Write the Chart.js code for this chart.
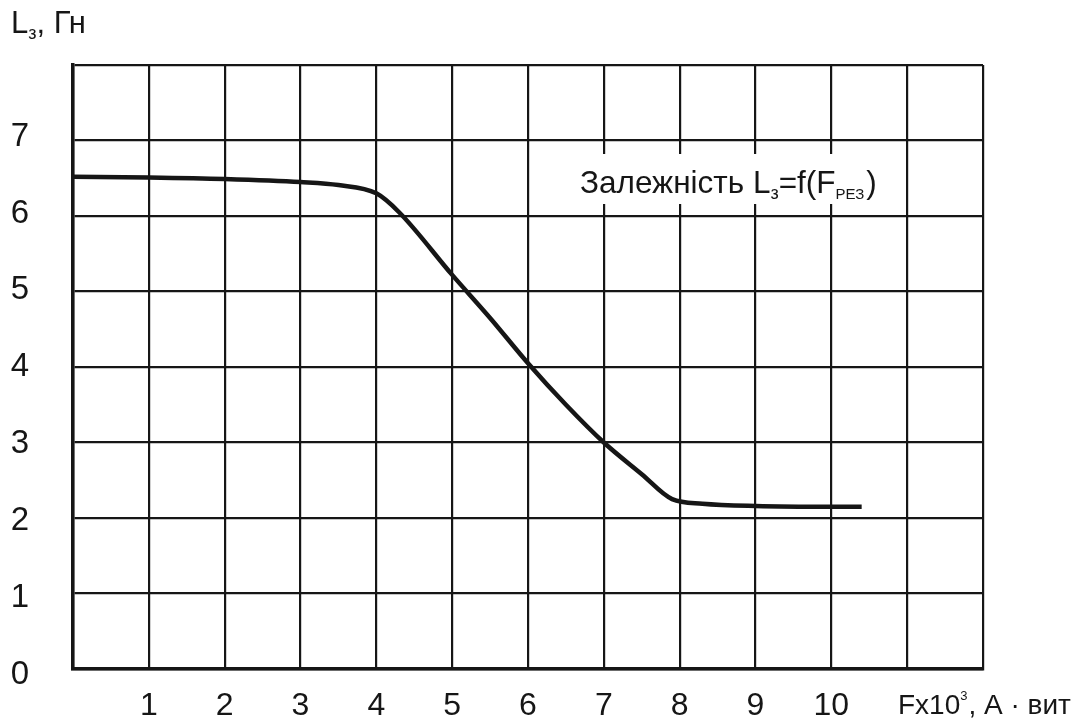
<!DOCTYPE html>
<html>
<head>
<meta charset="utf-8">
<script src="https://cdn.jsdelivr.net/npm/chart.js@4"></script>
<style>
  html, body { margin: 0; padding: 0; background: #fff; }
  #wrap { width: 1090px; height: 720px; }
</style>
</head>
<body>
<div id="wrap"><canvas id="myChart" width="1090" height="720"></canvas></div>
<script>
// curve
const fValues = [0, 1, 2, 3, 3.5, 4, 4.3, 5, 5.5, 6, 6.5, 7, 7.5, 7.9, 8.3, 9, 10, 10.4];
const lValues = [6.52, 6.51, 6.49, 6.45, 6.41, 6.3, 6.05, 5.22, 4.65, 4.05, 3.5, 3.0, 2.58, 2.25, 2.19, 2.16, 2.15, 2.15];
const xTicks = [1, 2, 3, 4, 5, 6, 7, 8, 9, 10];
const yTicks = [0, 1, 2, 3, 4, 5, 6, 7];

const FONT = "'Liberation Sans', Arial, sans-serif";
const INK = '#161616';

// draws runs of text, each with its own size and vertical shift
function drawRuns(c, x, y, runs) {
  runs.forEach(r => {
    c.font = r.size + 'px ' + FONT;
    c.fillText(r.t, x, y + (r.dy || 0));
    x += c.measureText(r.t).width + (r.gap || 0);
  });
}

const labelsPlugin = {
  id: 'labels',
  afterDatasetsDraw(chart) {
    const c = chart.ctx;
    c.save();
    c.fillStyle = INK;
    c.textBaseline = 'alphabetic';
    c.textAlign = 'left';
    // axis titles
    drawRuns(c, 11, 33, [{t: 'L', size: 31}, {t: 'з', size: 18, dy: 6}, {t: ', Гн', size: 31}]);
    drawRuns(c, 898, 714, [{t: 'Fx10', size: 28}, {t: '3', size: 13, dy: -14, gap: 1}, {t: ', А · вит', size: 28}]);
    // note with white box behind
    c.fillStyle = '#fff';
    c.fillRect(570, 154, 322, 50);
    c.fillStyle = INK;
    drawRuns(c, 580, 193, [
      {t: 'Залежність L', size: 31.5},
      {t: 'з', size: 18, dy: 6},
      {t: '=f(F', size: 31.5},
      {t: 'РЕЗ', size: 15, dy: 6, gap: 2},
      {t: ')', size: 31.5}
    ]);
    c.restore();
  }
};

// fixed box sizes, no extra room for edge labels
function fixSize(w, h) {
  return s => {
    if (w !== null) s.width = w;
    if (h !== null) s.height = h;
    s.paddingTop = 0; s.paddingBottom = 0; s.paddingLeft = 0; s.paddingRight = 0;
  };
}

const ctx = document.querySelector('#myChart').getContext('2d');

const chart = new Chart(ctx, {
  type: 'line',
  data: {
    datasets: [{
      data: fValues.map((f, i) => ({x: f, y: lValues[i]})),
      borderColor: INK,
      borderWidth: 4.5,
      pointRadius: 0,
      cubicInterpolationMode: 'monotone',
      fill: false
    }]
  },
  options: {
    responsive: false,
    animation: false,
    layout: { autoPadding: false, padding: { top: 65, right: 107, left: 0, bottom: 0 } },
    plugins: { legend: { display: false }, tooltip: { enabled: false } },
    scales: {
      x: {
        type: 'linear',
        min: 0,
        max: 12,
        afterBuildTicks: ax => { ax.ticks = [0,1,2,3,4,5,6,7,8,9,10,11,12].map(v => ({value: v})); },
        afterFit: fixSize(null, 51),
        grid: { color: INK, lineWidth: 2.2, drawTicks: false },
        border: { color: INK, width: 3.5 },
        ticks: {
          padding: 18,
          color: INK,
          font: { family: FONT, size: 32 },
          maxRotation: 0,
          autoSkip: false,
          callback: v => xTicks.includes(v) ? String(v) : ''
        }
      },
      y: {
        min: 0,
        max: 8,
        afterBuildTicks: ax => { ax.ticks = [0,1,2,3,4,5,6,7,8].map(v => ({value: v})); },
        afterFit: fixSize(0, null),
        grid: { color: INK, lineWidth: 2.2, drawTicks: false },
        border: { color: INK, width: 3.5 },
        ticks: { display: false }
      },
      // the printed labels sit on a slightly wider spacing than the grid
      yl: {
        position: 'left',
        min: 0.078,
        max: 7.93,
        afterBuildTicks: ax => { ax.ticks = yTicks.map(v => ({value: v})); },
        afterFit: fixSize(73, null),
        grid: { display: false, drawTicks: false },
        border: { display: false },
        ticks: {
          padding: 44,
          color: INK,
          font: { family: FONT, size: 33 }
        }
      }
    }
  },
  plugins: [labelsPlugin]
});
</script>
</body>
</html>
